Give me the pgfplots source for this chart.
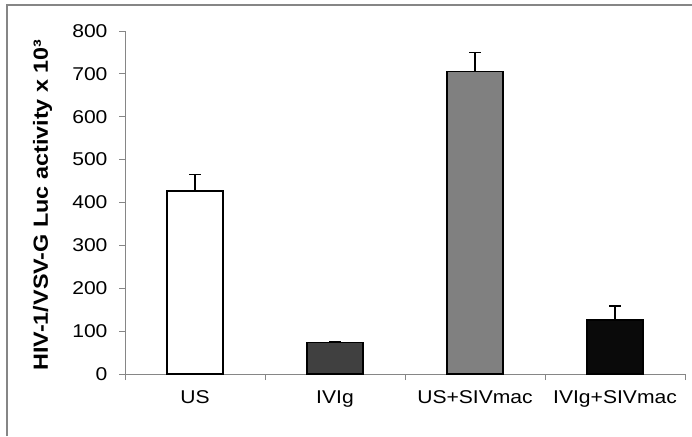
\documentclass[border=0pt]{standalone}
\usepackage{pgfplots}
\pgfplotsset{compat=1.18}
\usepackage{fontspec}
\setmainfont{Liberation Sans}[FakeStretch=1.14]

\definecolor{frame}{HTML}{868686}
\definecolor{darkbar}{HTML}{404040}
\definecolor{midbar}{HTML}{808080}
\definecolor{blackbar}{HTML}{0A0A0A}

\begin{document}
\begin{tikzpicture}
% whole chart area, px taken as pt
\path[use as bounding box] (0pt,0pt) rectangle (692pt,436pt);
\draw[frame, line width=1.5pt] (7pt,0pt) -- (7pt,431pt) -- (692pt,431pt);

\begin{axis}[
  at={(125pt,62pt)}, anchor=south west,
  scale only axis,
  width=560pt, height=343pt,
  xmin=0.5, xmax=4.5,
  ymin=0, ymax=800,
  axis x line*=bottom, axis y line*=left,
  axis line style={frame, line width=1pt},
  every tick/.style={frame, line width=1pt},
  tick align=outside,
  major tick length=6pt,
  ytick={0,100,...,800},
  xtick={0.5,1.5,2.5,3.5,4.5},
  x tick label as interval,
  xticklabels={US,IVIg,US+SIVmac,IVIg+SIVmac},
  /pgf/number format/assume math mode=true,
  tick label style={font=\fontsize{18.5}{22}\selectfont},
  yticklabel style={xshift=-8pt},
  xticklabel style={yshift=-7pt},
  ylabel={\bfseries HIV-1/VSV-G Luc activity x 10³},
  ylabel style={font=\fontsize{20.5}{24}\selectfont, at={(axis description cs:-0.147,0.493)}, anchor=center},
  clip=false,
]
\pgfplotsset{
  every axis plot/.append style={
    ybar, bar width=56pt, bar shift=0pt, draw=black, line width=1.5pt,
    error bars/y dir=plus, error bars/y explicit,
    error bars/error bar style={black, line width=1.5pt},
    error bars/error mark options={rotate=90, mark size=6pt, line width=1.5pt, black},
  },
}
\addplot[fill=white] coordinates {(1,427) +- (0,38)};
\addplot[fill=darkbar] coordinates {(2,73) +- (0,2)};
\addplot[fill=midbar] coordinates {(3,705) +- (0,45)};
\addplot[fill=blackbar] coordinates {(4,126) +- (0,33)};
\end{axis}
\end{tikzpicture}
\end{document}
